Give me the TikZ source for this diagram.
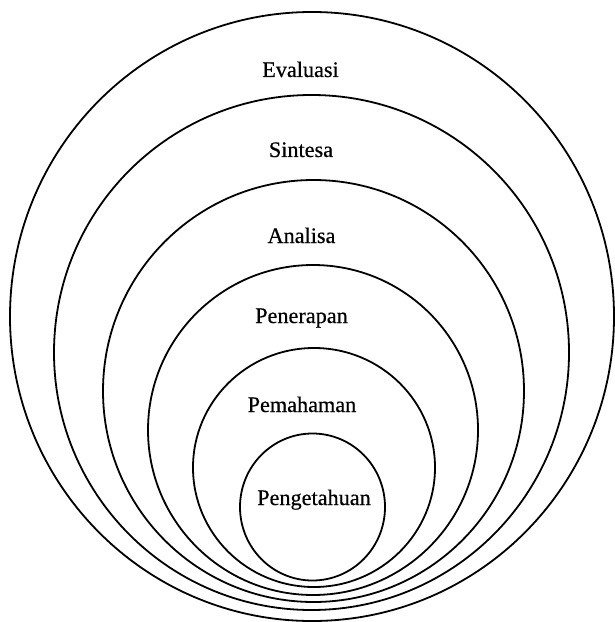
\documentclass[tikz,border=0pt]{standalone}
\usepackage{fontspec}
\setmainfont[FakeBold=0.5]{Liberation Serif}
\begin{document}
\begin{tikzpicture}[x=1bp,y=-1bp,
  ring/.style={draw=black,line width=1.8bp},
  lbl/.style={font=\fontsize{22.3}{26}\selectfont,inner sep=0pt,anchor=base}]
\useasboundingbox (0,0) rectangle (615,622);
\fill[white] (0,0) rectangle (615,622);
\draw[ring] (312,316.5) ellipse [x radius=302, y radius=304.5];
\draw[ring] (311.5,352.5) ellipse [x radius=257.5, y radius=257.5];
\draw[ring] (313.5,391) ellipse [x radius=210.5, y radius=211];
\draw[ring] (313,430) ellipse [x radius=165, y radius=165];
\draw[ring] (314,467.5) ellipse [x radius=121, y radius=119.5];
\draw[ring] (312.5,507) ellipse [x radius=72.5, y radius=73.5];
\node[lbl] (ev) at (300.5,77) {Evaluasi};
\node[lbl] (si) at (301,157) {Sintesa};
\node[lbl] (an) at (301.5,243) {Analisa};
\node[lbl] (pe) at (301.5,323) {Penerapan};
\node[lbl] (pm) at (302,412) {Pemahaman};
\node[lbl] (pg) at (314,505) {Pengetahuan};
\end{tikzpicture}
\end{document}
